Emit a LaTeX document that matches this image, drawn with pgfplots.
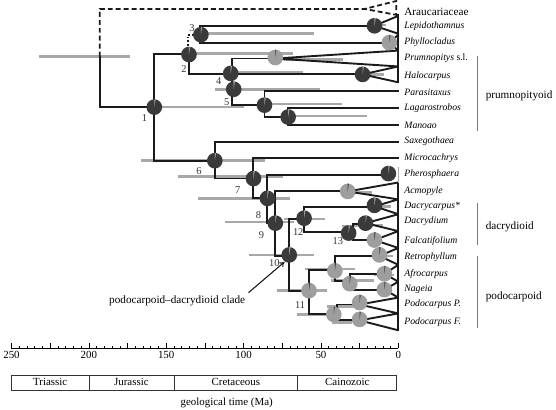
\documentclass[border=0pt]{standalone}
\usepackage{fontspec}
\setmainfont{Liberation Serif}
\usepackage{pgfplots}
\pgfplotsset{compat=1.18}
\usetikzlibrary{arrows.meta}
\definecolor{pieD}{HTML}{3A3A3A}
\definecolor{pieL}{HTML}{9E9E9E}
\definecolor{barC}{HTML}{A8A8A8}
\definecolor{lineC}{HTML}{1A1A1A}
\definecolor{cladeC}{HTML}{7A7A7A}
\pgfdeclareplotmark{dpie}{%
  \pgfpathcircle{\pgfpointorigin}{\pgfplotmarksize}%
  \pgfsetfillcolor{pieD}\pgfusepathqfill
  \pgfpathmoveto{\pgfpointorigin}%
  \pgfpathlineto{\pgfpointpolar{90}{\pgfplotmarksize}}%
  \pgfpatharc{90}{80}{\pgfplotmarksize}%
  \pgfpathclose
  \pgfsetfillcolor{pieL}\pgfusepathqfill
}
\pgfdeclareplotmark{lpie}{%
  \pgfpathcircle{\pgfpointorigin}{\pgfplotmarksize}%
  \pgfsetfillcolor{pieL}\pgfusepathqfill
  \pgfpathmoveto{\pgfpointorigin}%
  \pgfpathlineto{\pgfpointpolar{90}{\pgfplotmarksize}}%
  \pgfpatharc{90}{82}{\pgfplotmarksize}%
  \pgfpathclose
  \pgfsetfillcolor{pieD}\pgfusepathqfill
}
\begin{document}
\begin{tikzpicture}
\begin{axis}[
  scale only axis, width=390pt, height=351pt,
  xmin=0, xmax=250, ymin=-351, ymax=0, x dir=reverse,
  axis x line*=bottom, hide y axis,
  clip=false,
  xtick={0,25,...,250}, xticklabels={0,,50,,100,,150,,200,,250},
  minor x tick num=4,
  tick align=inside,
  major tick length=5pt, minor tick length=2.5pt,
  tick style={black, line width=0.5pt},
  x axis line style={line width=0.6pt},
  ticklabel style={font=\fontsize{11}{13}\selectfont},
  /pgf/number format/assume math mode=true,
  unbounded coords=jump,
]
% invisible frame for the picture size
\path (axis cs:254.5,0) -- (axis cs:-101.9,-413);
% confidence bars (grey)
\addplot[barC, line width=2.5pt, mark=none] coordinates {
(232.1,-57) (173.1,-57) (nan,nan)
(161.5,-108) (100.0,-108) (nan,nan)
(135.3,-54) (67.9,-54) (nan,nan)
(128.2,-34) (54.5,-34) (nan,nan)
(15.4,-25) (7.7,-25) (nan,nan)
(73.7,-60) (35.9,-60) (nan,nan)
(22.4,-75) (9.0,-75) (nan,nan)
(108.3,-72.5) (61.5,-72.5) (nan,nan)
(118.6,-90) (50.6,-90) (nan,nan)
(86.5,-105) (36.5,-105) (nan,nan)
(71.8,-117) (20.5,-117) (nan,nan)
(166.0,-162) (85.9,-162) (nan,nan)
(142.3,-178) (74.4,-178) (nan,nan)
(129.5,-200) (69.9,-200) (nan,nan)
(112.2,-224) (67.3,-224) (nan,nan)
(73.7,-221) (47.4,-221) (nan,nan)
(96.8,-257) (54.5,-257) (nan,nan)
(78.2,-293) (46.2,-293) (nan,nan)
(36.5,-228) (26.3,-228) (nan,nan)
(21.2,-227) (9.6,-227) (nan,nan)
(14.1,-208) (4.5,-208) (nan,nan)
(32.7,-194) (17.3,-194) (nan,nan)
(60.3,-271) (28.2,-271) (nan,nan)
(43.6,-283) (16.0,-283) (nan,nan)
(16.0,-277) (2.6,-277) (nan,nan)
(46.2,-309) (28.2,-309) (nan,nan)
(65.4,-317) (44.2,-317) (nan,nan)
(42.9,-325) (30.1,-325) (nan,nan)
(17.3,-258) (3.2,-258)
};
% dashed Araucariaceae branch
\addplot[lineC, line width=1.8pt, dash pattern=on 5pt off 3pt, mark=none] coordinates {
(192.9,-57) (192.9,-9) (21.8,-9) (1.3,-1) (1.3,-15) (21.8,-9)
};
% dotted branch to node 3
\addplot[lineC, line width=1.8pt, dotted, mark=none] coordinates {
(135.9,-50) (135.9,-35) (128.2,-35)
};
% thin branch to Prumnopitys
\addplot[lineC, line width=1.1pt, mark=none] coordinates {
(107.7,-59) (79.5,-59)
};
% solid branches
\addplot[lineC, line width=1.9pt, line cap=rect, mark=none] coordinates {
(192.9,-57) (192.9,-108) (157.7,-108) (nan,nan)
(157.7,-54) (157.7,-162) (nan,nan)
(157.7,-54) (135.3,-54) (nan,nan)
(157.7,-162) (118.6,-162) (nan,nan)
(135.3,-54) (135.3,-75) (23.1,-75) (nan,nan)
(128.2,-26) (128.2,-43) (nan,nan)
(128.2,-26) (15.4,-26) (nan,nan)
(128.2,-43) (5.8,-43) (nan,nan)
(107.7,-59) (107.7,-106) (nan,nan)
(107.7,-106) (86.5,-106) (nan,nan)
(86.5,-92) (86.5,-118) (nan,nan)
(86.5,-92) (0,-92) (nan,nan)
(86.5,-118) (71.2,-118) (nan,nan)
(71.2,-109) (71.2,-126) (nan,nan)
(71.2,-109) (0,-109) (nan,nan)
(71.2,-126) (0,-126) (nan,nan)
(118.6,-143) (118.6,-180) (nan,nan)
(118.6,-143) (0,-143) (nan,nan)
(118.6,-180) (94.2,-180) (nan,nan)
(94.2,-159) (94.2,-200) (nan,nan)
(94.2,-159) (0,-159) (nan,nan)
(94.2,-200) (84.6,-200) (nan,nan)
(84.6,-176) (84.6,-225) (nan,nan)
(84.6,-176) (6.4,-176) (nan,nan)
(84.6,-225) (79.5,-225) (nan,nan)
(79.5,-193) (79.5,-258) (nan,nan)
(79.5,-193) (32.7,-193) (nan,nan)
(79.5,-258) (70.5,-258) (nan,nan)
(70.5,-221) (70.5,-293) (nan,nan)
(70.5,-221) (60.9,-221) (nan,nan)
(60.9,-209) (60.9,-234) (nan,nan)
(60.9,-209) (15.4,-209) (nan,nan)
(60.9,-234) (29.5,-234) (nan,nan)
(29.5,-226) (29.5,-242) (nan,nan)
(29.5,-226) (21.2,-226) (nan,nan)
(29.5,-242) (15.4,-242) (nan,nan)
(70.5,-293) (57.7,-293) (nan,nan)
(57.7,-272) (57.7,-317) (nan,nan)
(57.7,-272) (41.0,-272) (nan,nan)
(41.0,-258) (41.0,-283) (nan,nan)
(41.0,-258) (12.2,-258) (nan,nan)
(41.0,-283) (31.4,-283) (nan,nan)
(31.4,-276) (31.4,-292) (nan,nan)
(31.4,-276) (9.0,-276) (nan,nan)
(31.4,-292) (9.0,-292) (nan,nan)
(57.7,-317) (41.7,-317) (nan,nan)
(39.7,-307) (39.7,-323) (nan,nan)
(39.7,-307) (25.0,-307) (nan,nan)
(39.7,-323) (25.0,-323) (nan,nan)
(0,-15) (0,-83) (nan,nan)
(0,-184) (0,-333)
};
% collapsed clades (triangles)
\addplot[lineC, line width=1.9pt, mark=none] coordinates {
(0,-16) (15.4,-26) (0,-34) (nan,nan)
(0,-35) (5.8,-43) (0,-51) (nan,nan)
(0,-51) (79.5,-59) (0,-67) (nan,nan)
(0,-67) (23.1,-75) (0,-83) (nan,nan)
(0,-184) (32.7,-193) (0,-201) (nan,nan)
(0,-201) (15.4,-208) (0,-216) (nan,nan)
(0,-216) (21.2,-225) (0,-233) (nan,nan)
(0,-233) (15.4,-242) (0,-250) (nan,nan)
(0,-250) (12.2,-258) (0,-267) (nan,nan)
(0,-267) (9.0,-276) (0,-284) (nan,nan)
(0,-284) (9.0,-292) (0,-300) (nan,nan)
(0,-300) (25.0,-307) (0,-316) (nan,nan)
(0,-316) (25.0,-323) (0,-333)
};
\addplot[barC, line width=1pt, mark=none] coordinates {(0,-168) (0,-184)};
% node pies
\addplot[only marks, mark=dpie, mark size=7.9pt] coordinates {
(157.7,-108) (135.3,-55) (127.6,-35) (15.4,-26) (108.3,-74) (23.1,-75)
(106.4,-90) (86.5,-106) (71.2,-118) (118.6,-162) (93.6,-180) (6.4,-175)
(84.6,-200) (79.5,-225) (60.9,-220) (15.4,-207) (32.1,-235) (21.2,-225)
(70.5,-257)
};
\addplot[only marks, mark=lpie, mark size=7.9pt] coordinates {
(5.8,-43) (79.5,-58) (32.7,-193) (15.4,-242) (12.2,-257) (41.0,-273)
(9.0,-276) (31.4,-286) (9.0,-292) (57.7,-293) (41.7,-317) (25.0,-305)
(25.0,-322)
};
% node numbers
\begin{scope}[every node/.style={font=\fontsize{10.5}{12}\selectfont, text=black!80, inner sep=0pt}]
\node at (axis cs:164.1,-119) {1};
\node at (axis cs:138.5,-70) {2};
\node at (axis cs:133.3,-28) {3};
\node at (axis cs:116.0,-82) {4};
\node at (axis cs:110.9,-103) {5};
\node at (axis cs:128.8,-172) {6};
\node at (axis cs:103.8,-192) {7};
\node at (axis cs:90.4,-217) {8};
\node at (axis cs:88.5,-237) {9};
\node at (axis cs:80.1,-265) {10};
\node at (axis cs:63.5,-308) {11};
\node at (axis cs:64.7,-234) {12};
\node at (axis cs:39.1,-243) {13};
\end{scope}
% taxon labels
\begin{scope}[every node/.style={anchor=west, inner sep=0pt, font=\fontsize{9.8}{11}\selectfont\itshape}]
\node[font=\fontsize{11.3}{13}\selectfont] at (axis cs:-3.8,-12) {Araucariaceae};
\node at (axis cs:-3.8,-26) {Lepidothamnus};
\node at (axis cs:-3.8,-43) {Phyllocladus};
\node at (axis cs:-3.8,-59) {Prumnopitys \upshape s.l.};
\node at (axis cs:-3.8,-77) {Halocarpus};
\node at (axis cs:-3.8,-93) {Parasitaxus};
\node at (axis cs:-3.8,-109) {Lagarostrobos};
\node at (axis cs:-3.8,-126) {Manoao};
\node at (axis cs:-3.8,-142) {Saxegothaea};
\node at (axis cs:-3.8,-159) {Microcachrys};
\node at (axis cs:-3.8,-176) {Pherosphaera};
\node at (axis cs:-3.8,-193) {Acmopyle};
\node at (axis cs:-3.8,-208) {Dacrycarpus*};
\node at (axis cs:-3.8,-223) {Dacrydium};
\node at (axis cs:-3.8,-243) {Falcatifolium};
\node at (axis cs:-3.8,-259) {Retrophyllum};
\node at (axis cs:-3.8,-276) {Afrocarpus};
\node at (axis cs:-3.8,-292) {Nageia};
\node at (axis cs:-3.8,-307) {Podocarpus P.};
\node at (axis cs:-3.8,-325) {Podocarpus F.};
\end{scope}
% clade bars
\draw[cladeC, line width=1pt] (axis cs:-51.3,-56) -- (axis cs:-51.3,-132);
\draw[cladeC, line width=1pt] (axis cs:-51.3,-205) -- (axis cs:-51.3,-247);
\draw[cladeC, line width=1pt] (axis cs:-51.3,-258) -- (axis cs:-51.3,-331);
\begin{scope}[every node/.style={anchor=west, inner sep=0pt, font=\fontsize{11.3}{13}\selectfont}]
\node at (axis cs:-56.4,-97) {prumnopityoid};
\node at (axis cs:-56.4,-229) {dacrydioid};
\node at (axis cs:-56.4,-299) {podocarpoid};
\end{scope}
% clade annotation
\draw[lineC, line width=1.1pt, -{To[length=5pt,width=6pt]}] (axis cs:96.8,-295) -- (axis cs:73.5,-264);
\node[font=\fontsize{11.3}{13}\selectfont, inner sep=0pt] at (axis cs:142.9,-303) {podocarpoid--dacrydioid clade};
% geological time scale
\draw[line width=0.6pt, black!80] (axis cs:250,-378) rectangle (axis cs:1.3,-393);
\draw[line width=0.6pt, black!80] (axis cs:200,-378) -- (axis cs:200,-393);
\draw[line width=0.6pt, black!80] (axis cs:145,-378) -- (axis cs:145,-393);
\draw[line width=0.6pt, black!80] (axis cs:65,-378) -- (axis cs:65,-393);
\begin{scope}[every node/.style={inner sep=0pt, font=\fontsize{11}{13}\selectfont}]
\node at (axis cs:225,-385.5) {Triassic};
\node at (axis cs:172.5,-385.5) {Jurassic};
\node at (axis cs:105,-385.5) {Cretaceous};
\node at (axis cs:33,-385.5) {Cainozoic};
\node at (axis cs:110.9,-406) {geological time (Ma)};
\end{scope}
\end{axis}
\end{tikzpicture}
\end{document}
